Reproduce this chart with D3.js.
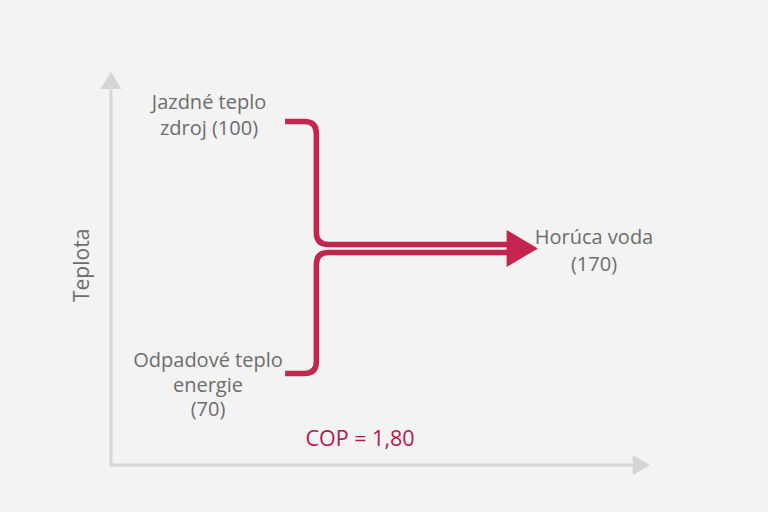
<!DOCTYPE html>
<html>
<head>
<meta charset="utf-8">
<script src="https://cdn.jsdelivr.net/npm/d3@7"></script>
<style>
  html, body { margin: 0; padding: 0; background: #f3f3f3; }
  svg { display: block; }
</style>
</head>
<body>
<div id="chart"></div>
<script>
// ---- data ----
const sourceNames = ["Jazdné teplo zdroj", "Odpadové teplo energie"];
const sourceLines = [["Jazdné teplo", "zdroj (100)"], ["Odpadové teplo", "energie", "(70)"]];
const sourceValues = [100, 70];
const outputName = "Horúca voda";
const outputValue = 170;
const copLabel = "COP = 1,80";
const axisLabel = "Teplota";

const W = 768, H = 512;
const red = "#c2254d", grey = "#6d6d6d", axisCol = "#d5d5d5";

const svg = d3.select("#chart").append("svg").attr("width", W).attr("height", H);
svg.append("rect").attr("width", W).attr("height", H).attr("fill", "#f3f3f3");

// schematic scales: x = flow progress, y = temperature level (normalised 0..1)
const x = d3.scaleLinear().domain([0, 1]).range([111, 650]);
const y = d3.scaleLinear().domain([0, 1]).range([465, 72]);

// axes (arrows)
const ax = svg.append("g").attr("fill", axisCol).attr("stroke", axisCol);
ax.append("line").attr("x1", x(0)).attr("y1", y(0)).attr("x2", x(0)).attr("y2", y(0.955))
  .attr("stroke-width", 3);
ax.append("path").attr("stroke", "none")
  .attr("d", `M${x(0) - 10.5},${y(0.957)} L${x(0)},${y(1)} L${x(0) + 10.5},${y(0.957)} Z`);
ax.append("line").attr("x1", x(0) - 1.5).attr("y1", y(0)).attr("x2", x(0.97)).attr("y2", y(0))
  .attr("stroke-width", 3);
ax.append("path").attr("stroke", "none")
  .attr("d", `M${x(0.968)},${y(0) - 10} L${x(1)},${y(0)} L${x(0.968)},${y(0) + 10} Z`);

const font = "'Open Sans', sans-serif";

svg.append("text").attr("transform", `translate(89,${y(0.508)}) rotate(-90)`)
  .attr("text-anchor", "middle").attr("fill", grey)
  .style("font-family", font).style("font-size", "21px")
  .text(axisLabel);

// flow lines
const levels = [0.874, 0.233];      // source temperature levels (top, bottom)
const mergeGap = 4;                  // px half gap between merged lines
const xStart = x(0.323), xBend = x(0.381), xEnd = x(0.734);
const yMid = y(0.551);
const r = 12;

sourceValues.forEach((v, i) => {
  const ys = y(levels[i]);
  const dir = ys < yMid ? 1 : -1;
  const yj = yMid + (i === 0 ? -mergeGap : mergeGap);
  const p = d3.path();
  p.moveTo(xStart, ys);
  p.lineTo(xBend - r, ys);
  p.quadraticCurveTo(xBend, ys, xBend, ys + dir * r);
  p.lineTo(xBend, yj - dir * r);
  p.quadraticCurveTo(xBend, yj, xBend + r, yj);
  p.lineTo(xEnd + 2, yj);
  svg.append("path").attr("d", p.toString()).attr("fill", "none")
    .attr("stroke", red).attr("stroke-width", 5.5);
});

// arrow head
svg.append("path").attr("fill", red)
  .attr("d", `M${xEnd},${yMid - 18.5} L${x(0.792)},${yMid} L${xEnd},${yMid + 18.5} Z`);

// labels
const labelPos = [{cx: 209, y0: 108.5, lh: 26}, {cx: 208, y0: 367, lh: 24.5}];
sourceLines.forEach((lines, i) => {
  const t = svg.append("text").attr("text-anchor", "middle").attr("fill", grey)
    .style("font-family", font).style("font-size", "20px");
  lines.forEach((ln, j) => {
    t.append("tspan").attr("x", labelPos[i].cx).attr("y", labelPos[i].y0 + j * labelPos[i].lh).text(ln);
  });
});

const out = svg.append("text").attr("text-anchor", "middle").attr("fill", grey)
  .style("font-family", font).style("font-size", "20px");
out.append("tspan").attr("x", 594).attr("y", 244).text(outputName);
out.append("tspan").attr("x", 594).attr("y", 271).text(`(${outputValue})`);

svg.append("text").attr("x", 360).attr("y", 446).attr("text-anchor", "middle")
  .attr("fill", "#b8174b").style("font-family", font).style("font-size", "21.5px")
  .text(copLabel);
</script>
</body>
</html>
